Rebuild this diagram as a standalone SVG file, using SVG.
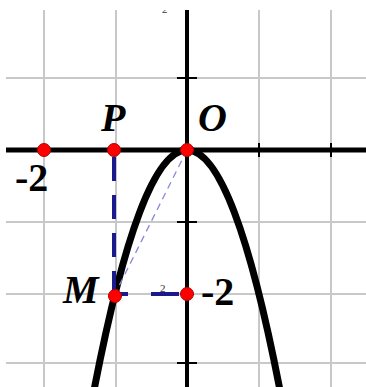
<svg xmlns="http://www.w3.org/2000/svg" width="366" height="387" viewBox="0 0 366 387">
<style>
.grid{stroke:#c8c8c8;stroke-width:2;fill:none}
.axis{stroke:#000;fill:none}
.tick{stroke:#000;stroke-width:2}
.pt{fill:#ff0000;stroke:#b00000;stroke-width:1}
.lbl{font-family:"Liberation Serif",serif;font-weight:bold;font-size:40px;fill:#000}
.it{font-style:italic}
.dash{stroke:#1a1a8c;stroke-width:4;fill:none}
</style>
<defs><clipPath id="top"><rect x="0" y="10" width="366" height="377"/></clipPath></defs>
<rect width="366" height="387" fill="#fff"/>
<g id="grid">
<path class="grid" d="M44 10V387M116 10V387M259 10V387M331 10V387M6 78H366M6 222H366M6 294H366M6 363H366"/>
</g>
<g id="axes">
<path class="axis" stroke-width="5" d="M6 150H366"/>
<path class="axis" stroke-width="4" d="M187 10V387"/>
<path class="tick" d="M259 143V157M331 143V157M177 78H197M177 222H197M177 363H197"/>
</g>
<g id="connectors">
<path d="M92 400.7Q187 -100.7 282 400.7" stroke="#000" stroke-width="7" fill="none"/>
<path d="M187 150L115 294" stroke="#8888dd" stroke-width="1.3" stroke-dasharray="7 5" fill="none"/>
<path class="dash" d="M114 157V294" stroke-dasharray="24 14"/>
<path class="dash" d="M116 294H128M151 294H179"/>
</g>
<g id="P"><circle class="pt" cx="114" cy="150" r="6.5"/><text class="lbl it" x="101" y="131">P</text></g>
<g id="O"><circle class="pt" cx="187" cy="150" r="6.5"/><text class="lbl it" x="198" y="131">O</text></g>
<g id="Mx"><circle class="pt" cx="44" cy="150" r="6.5"/><text class="lbl" x="15" y="191">-2</text></g>
<g id="M"><circle class="pt" cx="115" cy="296" r="6.5"/><text class="lbl it" x="63" y="303">M</text></g>
<g id="My"><circle class="pt" cx="187" cy="294" r="6.5"/><text class="lbl" x="201" y="305">-2</text><text x="160" y="292" font-family="Liberation Serif,serif" font-size="11" fill="#333">2</text></g>
<g id="topfrag" clip-path="url(#top)"><text x="162" y="13" font-family="Liberation Serif,serif" font-size="11" fill="#333">2</text></g>
</svg>
